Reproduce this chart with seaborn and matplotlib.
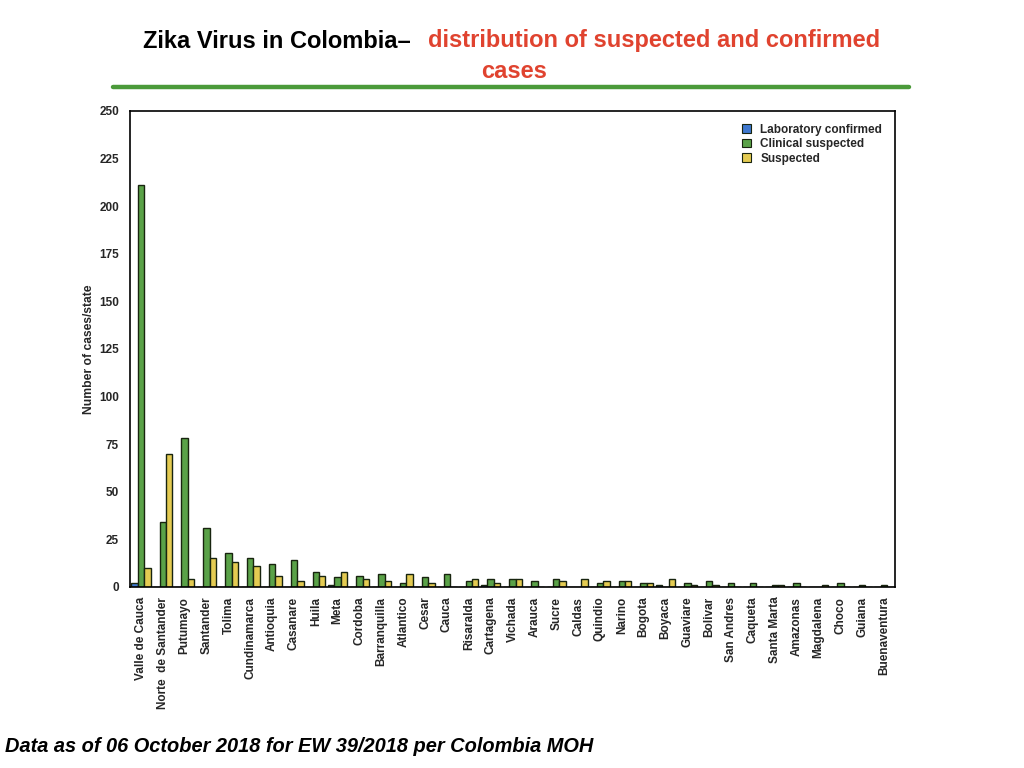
import matplotlib
matplotlib.use("Agg")
import matplotlib.pyplot as plt
import seaborn as sns
import pandas as pd
from matplotlib.patches import Patch

states = ["Valle de Cauca", "Norte  de Santander", "Putumayo", "Santander", "Tolima",
          "Cundinamarca", "Antioquia", "Casanare", "Huila", "Meta", "Cordoba",
          "Barranquilla", "Atlantico", "Cesar", "Cauca", "Risaralda", "Cartagena",
          "Vichada", "Arauca", "Sucre", "Caldas", "Quindio", "Narino", "Bogota",
          "Boyaca", "Guaviare", "Bolivar", "San Andres", "Caqueta", "Santa Marta",
          "Amazonas", "Magdalena", "Choco", "Guiana", "Buenaventura"]
lab_confirmed = [2, 0, 0, 0, 0, 0, 0, 0, 0, 1, 0, 0, 0, 0, 0, 0, 1, 0, 0, 0, 0, 0, 0, 0,
                 1, 0, 0, 0, 0, 0, 0, 0, 0, 0, 0]
clinical_suspected = [211, 34, 78, 31, 18, 15, 12, 14, 8, 5, 6, 7, 2, 5, 7, 3, 4, 4, 3, 4,
                      0, 2, 3, 2, 0, 2, 3, 2, 2, 1, 2, 0, 2, 1, 1]
suspected = [10, 70, 4, 15, 13, 11, 6, 3, 6, 8, 4, 3, 7, 2, 0, 4, 2, 4, 0, 3, 4, 3, 3, 2,
             4, 1, 1, 0, 0, 1, 0, 1, 0, 0, 0]
series_names = ["Laboratory confirmed", "Clinical suspected", "Suspected"]
series_colors = ["#3f78cf", "#5aa248", "#e4cb52"]
y_ticks = [0, 25, 50, 75, 100, 125, 150, 175, 200, 225, 250]

rows = []
for name, vals in zip(series_names, [lab_confirmed, clinical_suspected, suspected]):
    for st, v in zip(states, vals):
        rows.append({"State": st, "Series": name, "Cases": v})
df = pd.DataFrame(rows)

sns.set_theme(style="white")
plt.rcParams["font.family"] = ["Liberation Sans", "DejaVu Sans"]

fig = plt.figure(figsize=(10.24, 7.68), dpi=100)
ax = fig.add_axes([0.127, 0.2357, 0.747, 0.62])

sns.barplot(data=df, x="State", y="Cases", hue="Series", order=states,
            hue_order=series_names, palette=series_colors, width=0.88,
            edgecolor="#18240f", linewidth=1.0, saturation=1, ax=ax, legend=False)

ax.set_ylim(0, 250)
ax.set_xlim(-0.5, len(states) - 0.5)
ax.set_yticks(y_ticks)
ax.set_yticklabels([str(t) for t in y_ticks], fontsize=8.5, fontweight="bold")
ax.set_xticks(range(len(states)))
ax.set_xticklabels(states, rotation=90, fontsize=8.5, fontweight="bold")
ax.tick_params(axis="x", length=0, pad=7)
ax.tick_params(axis="y", length=0, pad=8)
ax.set_xlabel("")
ax.set_ylabel("Number of cases/state", fontsize=8.7, fontweight="bold", labelpad=3)
for sp in ax.spines.values():
    sp.set_color("black")
    sp.set_linewidth(1.2)

handles = [Patch(facecolor=c, edgecolor="#18240f", linewidth=0.8) for c in series_colors]
leg = ax.legend(handles, series_names, loc="upper right", bbox_to_anchor=(0.997, 0.995),
                frameon=False, prop={"weight": "bold", "size": 8.5},
                handlelength=0.75, handleheight=0.75, handletextpad=0.8, labelspacing=0.2)

# Title
fig.text(143 / 1024, 1 - 41 / 768, "Zika Virus in Colombia\u2013", fontsize=17,
         fontweight="bold", color="black", ha="left", va="center")
fig.text(428 / 1024, 1 - 41 / 768, "distribution of suspected and confirmed", fontsize=17,
         fontweight="bold", color="#e0432f", ha="left", va="center")
fig.text(514 / 1024, 1 - 72 / 768, "cases", fontsize=17,
         fontweight="bold", color="#e0432f", ha="center", va="center")
fig.add_artist(plt.Line2D([113 / 1024, 909 / 1024], [1 - 86.5 / 768, 1 - 86.5 / 768],
                          color="#4b9a3a", linewidth=3.2, transform=fig.transFigure))

# Footnote
fig.text(5 / 1024, 1 - 746 / 768, "Data as of 06 October 2018 for EW 39/2018 per Colombia MOH",
         fontsize=14.4, fontweight="bold", fontstyle="italic", color="black",
         ha="left", va="center")

fig.savefig("out.png", dpi=100, facecolor="white")
